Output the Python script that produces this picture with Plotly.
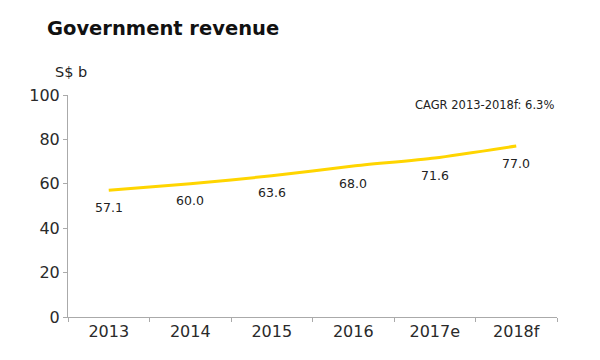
import plotly.graph_objects as go

years = ["2013", "2014", "2015", "2016", "2017e", "2018f"]
revenue = [57.1, 60.0, 63.6, 68.0, 71.6, 77.0]
labels = ["57.1", "60.0", "63.6", "68.0", "71.6", "77.0"]

# page body has an 8px default margin; positions below are relative to the figure
OFF = 8
W, H = 600, 360
L, R, T, B = 68 - OFF, W - (557 - OFF), 95 - OFF, H - (317 - OFF)
pw, ph = W - L - R, H - T - B

def px2paper(px, py):
    return (px - OFF - L) / pw, 1 - (py - OFF - T) / ph

fig = go.Figure()
fig.add_trace(go.Scatter(
    x=years, y=revenue, mode="lines",
    line=dict(color="#FFD500", width=3, shape="spline", smoothing=0.6),
    hoverinfo="skip", showlegend=False,
))

annotations = []
for i, (v, lab) in enumerate(zip(revenue, labels)):
    annotations.append(dict(
        x=i, y=v, xref="x", yref="y", text=lab, showarrow=False,
        yshift=-17, xanchor="center", yanchor="middle",
        font=dict(family="DejaVu Sans", size=12.5, color="#222222"),
    ))

for text, (px, py), size in [
    ("<b>Government revenue</b>", (45, 28), 19.5),
    ("S$ b", (53, 72), 14.5),
    ("CAGR 2013-2018f: 6.3%", (413, 105), 11.5),
]:
    xp, yp = px2paper(px, py)
    annotations.append(dict(
        text=text, x=xp, y=yp, xref="paper", yref="paper", showarrow=False,
        xanchor="left", yanchor="middle",
        font=dict(family="DejaVu Sans", size=size, color="#111111" if size > 15 else "#222222"),
    ))

fig.update_layout(
    width=W, height=H,
    margin=dict(l=L, r=R, t=T, b=B),
    paper_bgcolor="white", plot_bgcolor="white",
    font=dict(family="DejaVu Sans", color="#222222"),
    xaxis=dict(
        type="category", tickson="boundaries", ticks="outside", ticklen=4,
        tickcolor="#aaaaaa", showline=True, linecolor="#aaaaaa", linewidth=1,
        showgrid=False, tickfont=dict(size=16, color="#2a2a2a"),
        range=[-0.5, 5.5],
    ),
    yaxis=dict(
        range=[0, 100], tickvals=[0, 20, 40, 60, 80, 100], ticks="outside",
        ticklen=4, tickcolor="#aaaaaa", showline=True, linecolor="#aaaaaa",
        linewidth=1, showgrid=False, zeroline=False,
        tickfont=dict(size=16, color="#2a2a2a"),
    ),
    annotations=annotations,
)

fig.write_html("out.html")
